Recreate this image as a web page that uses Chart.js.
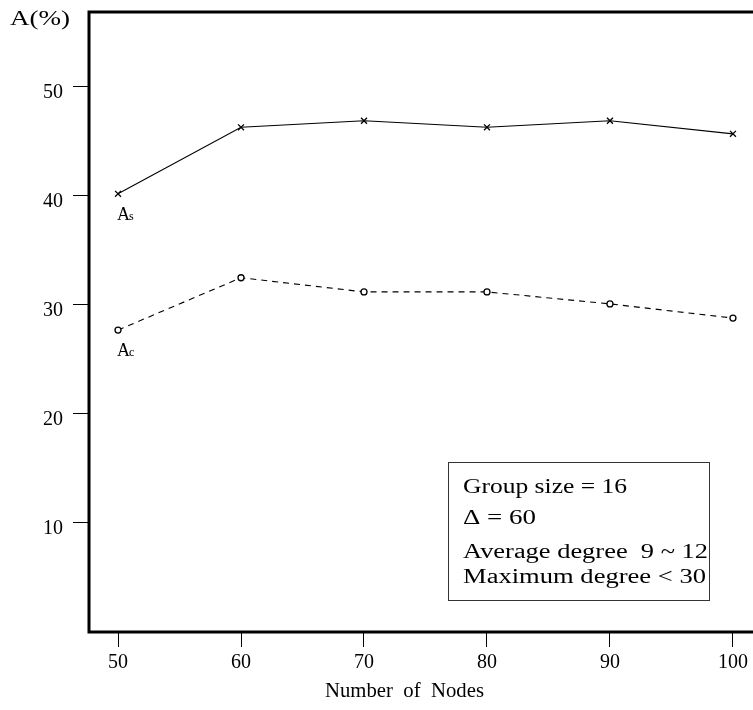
<!DOCTYPE html>
<html>
<head>
<meta charset="utf-8">
<script src="https://cdn.jsdelivr.net/npm/chart.js@4/dist/chart.umd.min.js"></script>
<style>
  html, body { margin: 0; padding: 0; background: #fff; }
  #wrap { width: 753px; height: 710px; }
</style>
</head>
<body>
<div id="wrap"><canvas id="c" width="753" height="710"></canvas></div>
<script>
// data
const nodes = [50, 60, 70, 80, 90, 100]
const aS = [40.2, 46.3, 46.9, 46.3, 46.9, 45.7]
const aC = [27.7, 32.5, 31.2, 31.2, 30.1, 28.8]
const yTicks = [10, 20, 30, 40, 50]
const xTicks = [50, 60, 70, 80, 90, 100]
const notes = ["Group size = 16", "\u0394 = 60", "Average degree  9 ~ 12", "Maximum degree < 30"]

const serif = "'Liberation Serif', 'Times New Roman', serif"

const pts = arr => nodes.map((n, i) => ({ x: n, y: arr[i] }))

// draw text squeezed/stretched to a given width
function fitText(ctx, text, x, y, width, size) {
    ctx.save()
    ctx.font = size + "px " + serif
    ctx.textAlign = "left"
    const w = ctx.measureText(text).width
    ctx.translate(x, y)
    ctx.scale(width / w, 1)
    ctx.fillText(text, 0, 0)
    ctx.restore()
}

// frame, labels and the note box
const decor = {
    id: "decor",
    afterDraw(chart) {
        const { ctx, chartArea: a, scales } = chart
        const W = chart.width
        ctx.save()
        ctx.strokeStyle = "#000"
        ctx.lineWidth = 3
        ctx.beginPath()
        ctx.moveTo(W, a.top)
        ctx.lineTo(a.left, a.top)
        ctx.lineTo(a.left, a.bottom)
        ctx.lineTo(W, a.bottom)
        ctx.stroke()

        ctx.fillStyle = "#000"
        ctx.textBaseline = "alphabetic"
        fitText(ctx, "A(%)", 10, 25, 60, 21)
        fitText(ctx, "Number  of  Nodes", 325, 697, 159, 20)

        // series names under the first point
        const sub = (y, s) => {
            const x = scales.x.getPixelForValue(nodes[0]) - 1
            ctx.textAlign = "left"
            ctx.font = "18px " + serif
            ctx.fillText("A", x, y)
            const w = ctx.measureText("A").width
            ctx.font = "12px " + serif
            ctx.fillText(s, x + w - 1, y)
        }
        sub(scales.y.getPixelForValue(aS[0]) + 26, "s")
        sub(scales.y.getPixelForValue(aC[0]) + 26, "c")

        // note box
        ctx.lineWidth = 1
        ctx.strokeStyle = "#333"
        ctx.strokeRect(448.5, 462.5, 261, 138)
        const ys = [493, 524, 558, 583]
        const ws = [164, 73, 245, 243]
        notes.forEach((t, i) => fitText(ctx, t, 463, ys[i], ws[i], 20))
        ctx.restore()
    }
}

new Chart(document.getElementById("c"), {
    type: "line",
    data: {
        datasets: [
            {
                label: "As",
                data: pts(aS),
                borderColor: "#000",
                borderWidth: 1.1,
                pointStyle: "crossRot",
                pointRadius: 4.2,
                pointBorderWidth: 1.3,
                pointBorderColor: "#000",
                tension: 0
            },
            {
                label: "Ac",
                data: pts(aC),
                borderColor: "#000",
                borderWidth: 1.1,
                borderDash: [6, 5],
                pointStyle: "circle",
                pointRadius: 3,
                pointBorderWidth: 1.3,
                pointBorderColor: "#000",
                pointBackgroundColor: "#fff",
                tension: 0
            }
        ]
    },
    options: {
        responsive: false,
        animation: false,
        layout: { autoPadding: false, padding: { top: 12, right: 0, left: 0, bottom: 0 } },
        plugins: { legend: { display: false }, tooltip: { enabled: false } },
        scales: {
            x: {
                type: "linear",
                min: 47.64,
                max: 101.63,
                afterBuildTicks: s => { s.ticks = xTicks.map(v => ({ value: v })) },
                afterFit: s => { s.height = 78; s.paddingLeft = 0; s.paddingRight = 0 },
                border: { display: false },
                grid: { drawOnChartArea: false, tickLength: 15, tickColor: "#000", tickWidth: 1 },
                ticks: { color: "#000", font: { family: serif, size: 20 }, padding: 4, maxRotation: 0 }
            },
            y: {
                min: 0,
                max: 56.88,
                afterBuildTicks: s => { s.ticks = yTicks.map(v => ({ value: v })) },
                afterFit: s => { s.width = 89; s.paddingTop = 0; s.paddingBottom = 0 },
                border: { display: false },
                grid: { drawOnChartArea: false, tickLength: 16, tickColor: "#000", tickWidth: 1 },
                ticks: { color: "#000", font: { family: serif, size: 20 }, padding: 10, labelOffset: 6 }
            }
        }
    },
    plugins: [decor]
})
</script>
</body>
</html>
